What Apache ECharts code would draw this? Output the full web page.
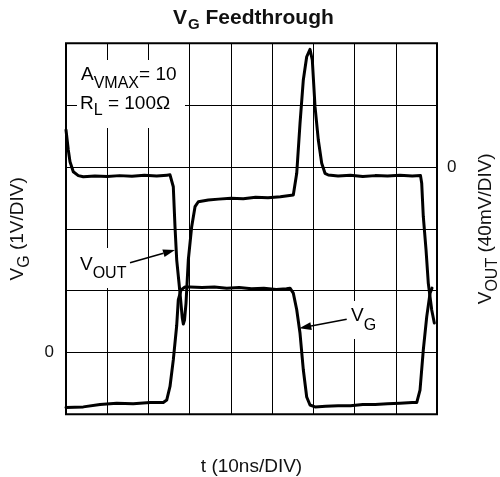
<!DOCTYPE html>
<html>
<head>
<meta charset="utf-8">
<title>VG Feedthrough</title>
<script src="https://cdn.jsdelivr.net/npm/echarts@6/dist/echarts.min.js"></script>
<style>
  html, body { margin: 0; padding: 0; background: #fff; }
  #main { width: 500px; height: 477px; }
</style>
</head>
<body>
<div id="main"></div>
<script>
// time in divisions (10ns/DIV)
var voutT = [0, 0.056, 0.097, 0.177, 0.298, 0.42, 0.7, 1.0, 1.3, 1.6, 1.9, 2.2, 2.45, 2.523, 2.603,
  2.644, 2.686, 2.766, 2.821, 2.846, 2.875, 2.911, 2.967, 3.049, 3.13, 3.21, 3.452, 3.7, 4.0, 4.3,
  4.6, 4.9, 5.2, 5.514, 5.597, 5.677, 5.757, 5.839, 5.919, 5.975, 6.041, 6.121, 6.203, 6.283, 6.363,
  6.6, 6.9, 7.2, 7.5, 7.8, 8.1, 8.4, 8.6, 8.629, 8.668, 8.734, 8.789, 8.872, 8.935];
// VOUT in mV
var voutMV = [23.9, 11.0, 3.4, -3.1, -5.6, -6.3, -5.8, -6.2, -5.6, -6.0, -5.4, -5.9, -5.3, -5.1, -12.8,
  -38.6, -60.2, -81.7, -97.7, -101.6, -99, -88.2, -60.2, -38.6, -25.7, -22.5, -21.4, -20.8, -20.2, -20.6,
  -19.6, -19.9, -19.2, -18.1, -4.1, 28.2, 56.3, 71.3, 76.1, 69.2, 39.0, 17.4, 2.4, -4.1, -5.2,
  -5.8, -5.3, -6.1, -5.6, -5.9, -5.4, -5.8, -5.6, -10.6, -32.2, -53.7, -75.3, -92.5, -100.9];

var vgT = [0, 0.42, 0.825, 1.23, 1.63, 2.04, 2.36, 2.443, 2.523, 2.603, 2.686, 2.724, 2.79, 2.887, 3.008,
  3.3, 3.6, 3.9, 4.2, 4.5, 4.8, 5.1, 5.35, 5.434, 5.514, 5.597, 5.677, 5.757, 5.839, 5.919,
  6.041, 6.3, 6.6, 6.9, 7.2, 7.5, 7.8, 8.1, 8.4, 8.508, 8.588, 8.668, 8.751, 8.831, 8.879];
// VG in volts
var vgV = [-0.89, -0.88, -0.84, -0.82, -0.83, -0.81, -0.81, -0.77, -0.55, -0.12, 0.44, 0.85, 1.01, 1.06, 1.06,
  1.05, 1.06, 1.04, 1.05, 1.03, 1.04, 1.02, 1.03, 1.04, 0.96, 0.69, 0.31, -0.28, -0.72, -0.85,
  -0.88, -0.87, -0.86, -0.86, -0.84, -0.84, -0.83, -0.82, -0.81, -0.81, -0.61, 0.04, 0.58, 0.96, 1.04];

var vgTicks = ['0'];
var voutTicks = ['0'];

var FONT = "'Liberation Sans', Arial, Helvetica, sans-serif";
var INK = '#111';

function zip(a, b) {
  return a.map(function (v, i) { return [v, b[i]]; });
}

function subRich(main, sub, pad) {
  return {
    m: { fontSize: main, fontFamily: FONT, color: INK, lineHeight: main + 2 },
    s: { fontSize: sub, fontFamily: FONT, color: INK, lineHeight: sub, padding: [pad, 0, 0, 0] }
  };
}

function arrow(x1, y1, x2, y2) {
  var a = Math.atan2(y2 - y1, x2 - x1), L = 12, W = 4;
  var bx = x2 - L * Math.cos(a), by = y2 - L * Math.sin(a);
  return [
    { type: 'line', z: 100, shape: { x1: x1, y1: y1, x2: bx, y2: by }, style: { stroke: '#000', lineWidth: 1.6 } },
    { type: 'polygon', z: 100, shape: { points: [[x2, y2], [bx + W * Math.sin(a), by - W * Math.cos(a)], [bx - W * Math.sin(a), by + W * Math.cos(a)]] }, style: { fill: '#000' } }
  ];
}

var chartDom = document.getElementById('main');
var myChart = echarts.init(chartDom);
var option;

option = {
  animation: false,
  backgroundColor: '#fff',
  title: {
    text: '{v|V}{s|G}{v| Feedthrough}',
    left: 168,
    top: 2,
    textStyle: {
      rich: {
        v: { fontSize: 21, fontWeight: 'bold', fontFamily: FONT, color: INK, lineHeight: 23 },
        s: { fontSize: 15, fontWeight: 'bold', fontFamily: FONT, color: INK, lineHeight: 15, padding: [12, 0, 0, 1] }
      }
    }
  },
  grid: {
    left: 66, right: 63, top: 43.3, bottom: 62.7,
    containLabel: false, outerBoundsMode: 'none',
    show: true, borderColor: '#000', borderWidth: 2, backgroundColor: 'transparent'
  },
  xAxis: {
    type: 'value', min: 0, max: 9, interval: 1,
    axisLine: { show: false }, axisTick: { show: false }, axisLabel: { show: false },
    splitLine: { show: true, lineStyle: { color: '#000', width: 1 } },
    name: 't (10ns/DIV)', nameLocation: 'middle', nameGap: 43,
    nameTextStyle: { fontSize: 19, fontFamily: FONT, color: INK }
  },
  yAxis: [
    {
      type: 'value', min: -1, max: 5, interval: 1, position: 'left',
      axisLine: { show: false }, axisTick: { show: false },
      axisLabel: {
        margin: 12, fontSize: 17, fontFamily: FONT, color: INK,
        formatter: function (v) { return vgTicks.indexOf(String(v)) >= 0 ? String(v) : ''; }
      },
      splitLine: { show: true, lineStyle: { color: '#000', width: 1 } },
      name: '{m|V}{s|G}{m| (1V/DIV)}', nameLocation: 'middle', nameRotate: 90, nameGap: 38,
      nameTextStyle: { rich: subRich(19, 16, 14) }
    },
    {
      type: 'value', min: -160, max: 80, interval: 40, position: 'right',
      axisLine: { show: false }, axisTick: { show: false },
      axisLabel: {
        margin: 10, fontSize: 17, fontFamily: FONT, color: INK,
        formatter: function (v) { return voutTicks.indexOf(String(v)) >= 0 ? String(v) : ''; }
      },
      splitLine: { show: false },
      name: '{m|V}{s|OUT}{m| (40mV/DIV)}', nameLocation: 'middle', nameRotate: 90, nameGap: 38,
      nameTextStyle: { rich: subRich(19, 16, 14) }
    }
  ],
  graphic: [
    { type: 'rect', z: 90, shape: { x: 77, y: 60, width: 108, height: 68 }, style: { fill: '#fff' } },
    { type: 'rect', z: 90, shape: { x: 76, y: 248, width: 56, height: 40 }, style: { fill: '#fff' } },
    { type: 'rect', z: 90, shape: { x: 348, y: 301, width: 34, height: 38 }, style: { fill: '#fff' } },
    { type: 'text', z: 100, x: 81, y: 75, style: { text: '{m|A}{s|VMAX}{m|= 10}', rich: subRich(19, 16, 18), align: 'left', verticalAlign: 'middle' } },
    { type: 'text', z: 100, x: 80, y: 104, style: { text: '{m|R}{s|L}{m| = 100Ω}', rich: subRich(19, 16, 14), align: 'left', verticalAlign: 'middle' } },
    { type: 'text', z: 100, x: 80, y: 265, style: { text: '{m|V}{s|OUT}', rich: subRich(19, 16, 17), align: 'left', verticalAlign: 'middle' } },
    { type: 'text', z: 100, x: 351, y: 316, style: { text: '{m|V}{s|G}', rich: subRich(19, 16, 20), align: 'left', verticalAlign: 'middle' } }
  ].concat(arrow(130, 262.7, 175, 250)).concat(arrow(346.7, 319.3, 299.3, 328.3)),
  series: [
    {
      name: 'VG', type: 'line', yAxisIndex: 0, showSymbol: false, symbol: 'none',
      data: zip(vgT, vgV),
      lineStyle: { color: '#000', width: 3, cap: 'round', join: 'round' }
    },
    {
      name: 'VOUT', type: 'line', yAxisIndex: 1, showSymbol: false, symbol: 'none',
      data: zip(voutT, voutMV),
      lineStyle: { color: '#000', width: 3, cap: 'round', join: 'round' }
    }
  ]
};

option && myChart.setOption(option);
</script>
</body>
</html>
